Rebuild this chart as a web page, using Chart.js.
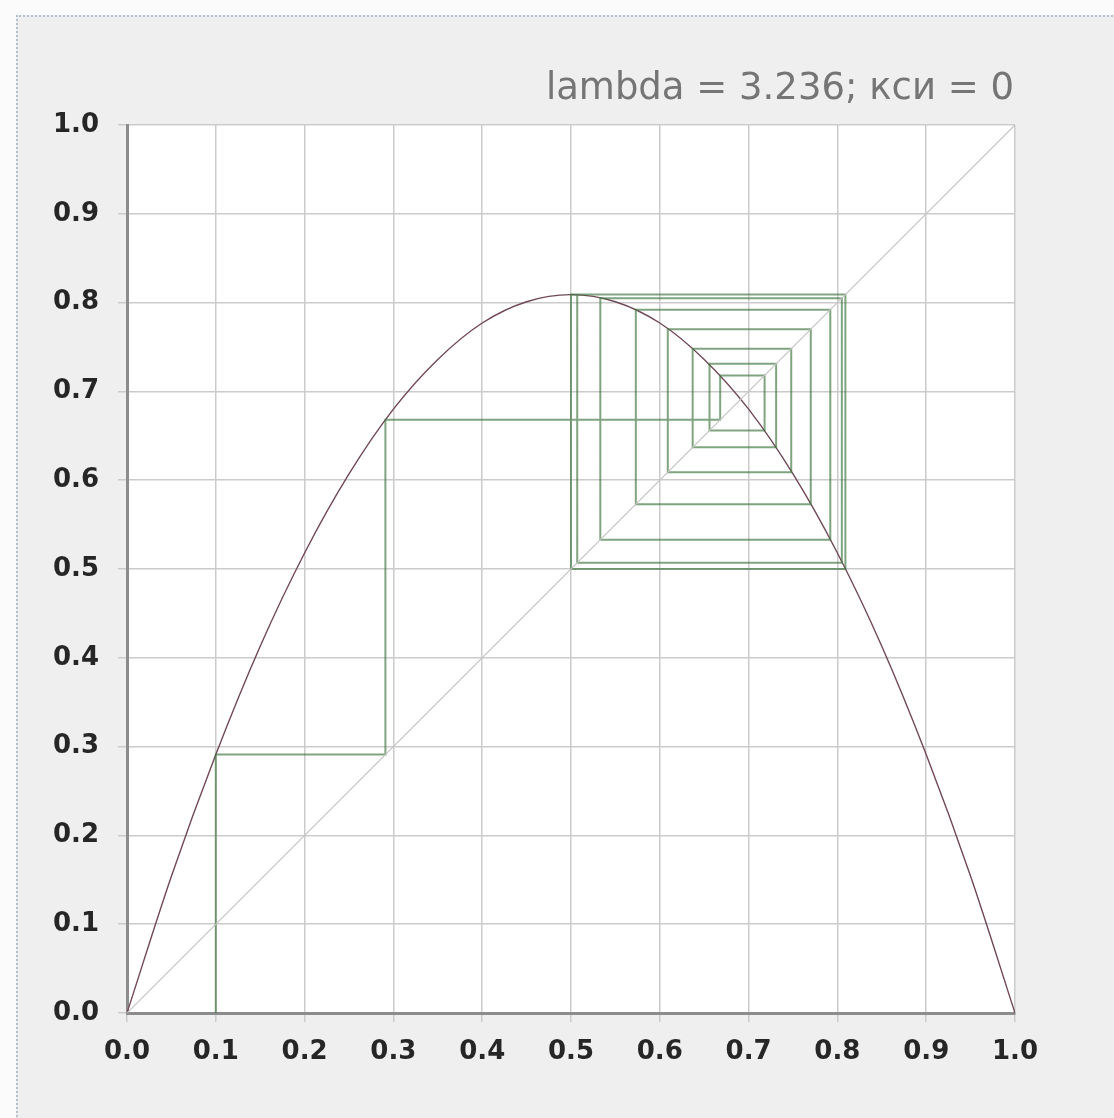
<!DOCTYPE html>
<html>
<head>
<meta charset="utf-8">
<script src="https://cdn.jsdelivr.net/npm/chart.js"></script>
<style>
  html, body { margin: 0; padding: 0; background: #fbfbfb; }
  #frame {
    position: absolute; left: 16px; top: 15px; width: 1110px; height: 1120px;
    border-left: 2px dotted #b4c0cc; border-top: 2px dotted #b4c0cc;
    background: #efefef;
  }
  #myChart { position: absolute; left: 0; top: 0; }
</style>
</head>
<body>
<div id="frame"></div>
<canvas id="myChart" width="1114" height="1118"></canvas>
<script>
// values
const titleText = 'lambda = 3.236; кси = 0';

// the map curve y = f(x)
const curveX = [0, 0.05, 0.1, 0.15, 0.2, 0.25, 0.3, 0.35, 0.4, 0.45, 0.5,
                0.55, 0.6, 0.65, 0.7, 0.75, 0.8, 0.85, 0.9, 0.95, 1];
const curveY = [0, 0.154, 0.291, 0.413, 0.518, 0.607, 0.680, 0.736, 0.777, 0.801, 0.809,
                0.801, 0.777, 0.736, 0.680, 0.607, 0.518, 0.413, 0.291, 0.154, 0];

// diagonal y = x
const diagX = [0, 1];
const diagY = [0, 1];

// successive x values of the iteration (cobweb corners)
const orbit = [0.1, 0.291, 0.668, 0.718, 0.656, 0.731, 0.637, 0.748, 0.609, 0.770,
               0.573, 0.792, 0.533, 0.805, 0.507, 0.809, 0.500, 0.809, 0.500, 0.809,
               0.500, 0.809, 0.500];

const tickValues = [0, 0.1, 0.2, 0.3, 0.4, 0.5, 0.6, 0.7, 0.8, 0.9, 1.0];

// build point lists
const curvePts = curveX.map((x, i) => ({ x: x, y: curveY[i] }));
const diagPts = diagX.map((x, i) => ({ x: x, y: diagY[i] }));
const cobPts = [{ x: orbit[0], y: 0 }];
for (let i = 0; i < orbit.length - 1; i++) {
  cobPts.push({ x: orbit[i], y: orbit[i + 1] });
  cobPts.push({ x: orbit[i + 1], y: orbit[i + 1] });
}

const plotBg = {
  id: 'plotBg',
  beforeDraw(chart) {
    const a = chart.chartArea, c = chart.ctx;
    c.save();
    c.fillStyle = '#ffffff';
    c.fillRect(a.left, a.top, a.right - a.left, a.bottom - a.top);
    c.restore();
  },
  afterDraw(chart) {
    const c = chart.ctx;
    c.save();
    c.font = '37px "DejaVu Sans"';
    c.fillStyle = '#757575';
    c.textAlign = 'right';
    c.textBaseline = 'alphabetic';
    c.fillText(titleText, chart.chartArea.right - 1, 99);
    c.restore();
  }
};

const tickFont = { family: '"DejaVu Sans"', size: 26, weight: 'bold' };

const ctx = document.getElementById('myChart').getContext('2d');
const chart = new Chart(ctx, {
  type: 'scatter',
  data: {
    datasets: [
      {
        data: diagPts,
        showLine: true,
        borderColor: '#c4c4c4',
        borderWidth: 1.2,
        pointRadius: 0,
      },
      {
        data: cobPts,
        showLine: true,
        borderColor: 'rgba(60, 115, 60, 0.65)',
        borderWidth: 2,
        pointRadius: 0,
      },
      {
        data: curvePts,
        showLine: true,
        borderColor: '#704858',
        borderWidth: 1.4,
        pointRadius: 0,
        cubicInterpolationMode: 'monotone',
      }
    ]
  },
  options: {
    responsive: false,
    animation: false,
    layout: { padding: { top: 125, right: 99, left: 0, bottom: 0 } },
    plugins: {
      legend: { display: false },
      title: { display: false },
      tooltip: { enabled: false }
    },
    scales: {
      x: {
        type: 'linear',
        min: 0, max: 1,
        afterFit(scale) { scale.height = 105; },
        afterBuildTicks(scale) { scale.ticks = tickValues.map(v => ({ value: v })); },
        ticks: {
          callback: v => v.toFixed(1),
          color: '#262626',
          font: tickFont,
          padding: 15,
          maxRotation: 0,
          autoSkip: false
        },
        grid: { color: '#cbcbcb', lineWidth: 1.5, tickLength: 9 },
        border: { display: true, color: '#8c8c8c', width: 3 }
      },
      y: {
        type: 'linear',
        min: 0, max: 1,
        afterFit(scale) { scale.width = 127; },
        afterBuildTicks(scale) { scale.ticks = tickValues.map(v => ({ value: v })); },
        ticks: {
          callback: v => v.toFixed(1),
          color: '#262626',
          font: tickFont,
          padding: 19,
          autoSkip: false
        },
        grid: { color: '#cbcbcb', lineWidth: 1.5, tickLength: 9 },
        border: { display: true, color: '#8c8c8c', width: 3 }
      }
    }
  },
  plugins: [plotBg]
});
</script>
</body>
</html>
